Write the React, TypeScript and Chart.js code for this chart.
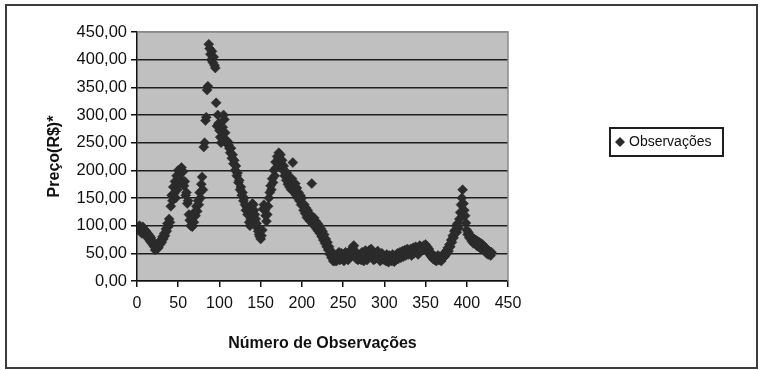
import React, { useEffect, useRef } from 'react';
import { Chart, registerables } from 'chart.js';

Chart.register(...registerables);

const seriesLabel = 'Observações';
const xTitle = 'Número de Observações';
const yTitle = 'Preço(R$)*';
const xTickValues = [0, 50, 100, 150, 200, 250, 300, 350, 400, 450];
const yTickValues = [0, 50, 100, 150, 200, 250, 300, 350, 400, 450];

// Observed prices, observation 1..430
const prices = [
  97, 92, 100, 90, 96, 86, 98, 88, 93, 84,
  90, 80, 86, 76, 82, 72, 78, 68, 72, 64,
  62, 56, 64, 58, 66, 60, 70,
  66, 74, 70, 80, 76, 86, 82, 94, 90, 104, 98, 112, 106,
  135, 155, 145, 170, 158, 180, 150, 190, 165, 200, 175, 195, 185, 205, 178, 198,
  172, 180, 155, 160, 140, 145, 120, 110, 100, 108,
  98, 115, 106, 125, 118, 135, 126, 145, 138, 160, 150, 175, 188, 165,
  242, 250, 290, 296,
  345, 352, 428, 420, 410, 400, 415, 395, 405, 390, 385, 322,
  280, 300, 285, 272, 260, 250, 262, 278, 300, 292, 268, 255, 248, 252, 246, 240,
  232, 240, 222, 228, 212, 218, 200, 208, 190, 195, 178, 182, 165, 170, 155, 160, 145, 150,
  138, 128, 134, 120, 130, 106, 100, 112, 126, 140,
  138, 128, 120, 112, 104, 96, 90, 84, 80, 76, 82, 92, 130, 138, 128, 118, 108, 120, 135, 150,
  160, 172, 165, 185, 178, 200, 190, 215, 205, 225, 212, 232, 220, 228, 210,
  218, 200, 208, 190, 198, 182, 195, 175, 188, 170, 182, 165, 185, 214, 172, 160, 176, 155, 168, 150, 160, 145, 155, 138, 150,
  140, 128, 138, 122, 132, 115, 128, 112, 122, 108, 118, 176, 110, 102, 114, 98, 108, 94, 104, 90,
  100, 86, 95, 80, 90, 74, 84, 68, 76, 62, 70, 56, 62, 48, 55, 42, 48, 36, 44, 36,
  42, 36, 48, 40, 52, 38, 45, 50, 40, 47, 36, 44, 52, 42, 48, 38, 50, 44, 55, 48, 58, 62,
  64, 54, 48, 40, 50, 38, 46, 40,
  48, 38, 52, 42, 36, 46, 55, 44, 38, 50, 42, 56, 48, 58, 44, 52, 38, 46, 40, 50, 44, 54, 42, 48, 36, 45, 50, 40, 46, 38,
  44, 36, 48, 40, 34, 46, 38, 44, 36, 48, 40, 35, 46, 38, 44, 50, 40, 46, 52, 42, 48, 54, 44, 50, 56, 46, 52, 58, 48, 54,
  50, 58, 46, 55, 60, 50, 56, 62, 52, 58, 48, 60, 64, 54, 58, 62, 56, 64, 60, 66, 58, 62, 54, 58, 48,
  52, 44, 48, 40, 45, 38, 44, 36, 42, 46, 38, 44, 40, 36, 46, 42, 48, 44, 52, 48, 56,
  60, 54, 66, 62, 74, 70, 82, 78, 90,
  92, 100, 88, 104, 96, 112, 124, 138, 150, 165, 140, 128, 118, 105, 92, 84, 88, 78, 82,
  80, 72, 78, 68, 76, 70, 74, 64, 72, 62, 70, 60, 68, 58, 66, 56, 62, 54, 60, 50, 56, 48, 54, 50, 46, 52,
];

const FONT = "'Liberation Sans', Arial, Helvetica, sans-serif";
const MARK = '#2b2b2b';

export default function App() {
  const ref = useRef<HTMLCanvasElement>(null);

  useEffect(() => {
    if (!ref.current) return;
    const points = prices.map((v, i) => ({ x: i + 1, y: v }));

    const decor = {
      id: 'decor',
      beforeDraw(chart: any) {
        const { ctx, chartArea: a } = chart;
        ctx.save();
        ctx.fillStyle = '#ffffff';
        ctx.fillRect(0, 0, chart.width, chart.height);
        ctx.strokeStyle = '#3c3c3c';
        ctx.lineWidth = 2;
        ctx.strokeRect(6, 5, 751, 363);
        ctx.fillStyle = '#c0c0c0';
        ctx.fillRect(a.left, a.top, a.right - a.left, a.bottom - a.top);
        ctx.restore();
      },
      beforeDatasetsDraw(chart: any) {
        const { ctx, chartArea: a } = chart;
        ctx.save();
        ctx.strokeStyle = '#8a8a8a';
        ctx.lineWidth = 1.5;
        ctx.beginPath();
        ctx.moveTo(a.left, a.top);
        ctx.lineTo(a.right, a.top);
        ctx.lineTo(a.right, a.bottom);
        ctx.stroke();
        ctx.restore();
      },
      afterDraw(chart: any) {
        const { ctx } = chart;
        const label = chart.data.datasets[0].label;
        ctx.save();
        ctx.strokeStyle = '#1e1e1e';
        ctx.lineWidth = 2;
        ctx.strokeRect(610, 128, 113, 28);
        const cx = 620, cy = 142, r = 5;
        ctx.fillStyle = MARK;
        ctx.beginPath();
        ctx.moveTo(cx, cy - r);
        ctx.lineTo(cx + r, cy);
        ctx.lineTo(cx, cy + r);
        ctx.lineTo(cx - r, cy);
        ctx.closePath();
        ctx.fill();
        ctx.fillStyle = '#111';
        ctx.font = `14px ${FONT}`;
        ctx.textAlign = 'left';
        ctx.textBaseline = 'middle';
        ctx.fillText(label, 629, 142);
        ctx.restore();
      },
    };

    const chart = new Chart(ref.current, {
      type: 'scatter',
      data: {
        datasets: [
          {
            label: seriesLabel,
            data: points,
            pointStyle: 'rectRot',
            pointRadius: 5,
            pointBackgroundColor: MARK,
            pointBorderColor: MARK,
            pointBorderWidth: 0.5,
          },
        ],
      },
      options: {
        responsive: false,
        animation: false,
        events: [],
        layout: { padding: { top: 32, right: 255, left: 0, bottom: 0 } },
        plugins: {
          legend: { display: false },
          tooltip: { enabled: false },
        },
        scales: {
          x: {
            type: 'linear',
            min: 0,
            max: 450,
            afterFit: (s: any) => { s.height = 89; },
            afterBuildTicks: (s: any) => { s.ticks = xTickValues.map((v) => ({ value: v })); },
            ticks: {
              color: '#111',
              font: { family: FONT, size: 16 },
              padding: 7,
              maxRotation: 0,
              callback: (v: any) => String(v),
            },
            grid: {
              drawOnChartArea: false,
              drawTicks: true,
              tickLength: 6,
              tickColor: '#111',
              lineWidth: 1.5,
            },
            border: { color: '#111', width: 1.5 },
            title: {
              display: true,
              text: xTitle,
              color: '#111',
              font: { family: FONT, size: 16, weight: 'bold' },
              padding: { top: 0, bottom: 17 },
            },
          },
          y: {
            type: 'linear',
            min: 0,
            max: 450,
            afterFit: (s: any) => { s.width = 137; },
            afterBuildTicks: (s: any) => { s.ticks = yTickValues.map((v) => ({ value: v })); },
            ticks: {
              color: '#111',
              font: { family: FONT, size: 16.5 },
              padding: 4,
              callback: (v: any) => Number(v).toFixed(2).replace('.', ','),
            },
            grid: {
              color: (c: any) => (c.tick && c.tick.value === 450 ? '#8a8a8a' : '#1e1e1e'),
              lineWidth: 1.5,
              drawTicks: true,
              tickLength: 6,
              tickColor: '#111',
            },
            border: { color: '#111', width: 1.5 },
            title: {
              display: true,
              text: yTitle,
              color: '#111',
              font: { family: FONT, size: 16, weight: 'bold' },
              padding: { top: 45, bottom: 0 },
            },
          },
        },
      },
      plugins: [decor],
    });

    return () => chart.destroy();
  }, []);

  return (
    <div style={{ position: 'absolute', left: 0, top: 0, width: 763, height: 370, background: '#fff' }}>
      <canvas ref={ref} width={763} height={370} style={{ display: 'block', width: 763, height: 370 }} />
    </div>
  );
}
